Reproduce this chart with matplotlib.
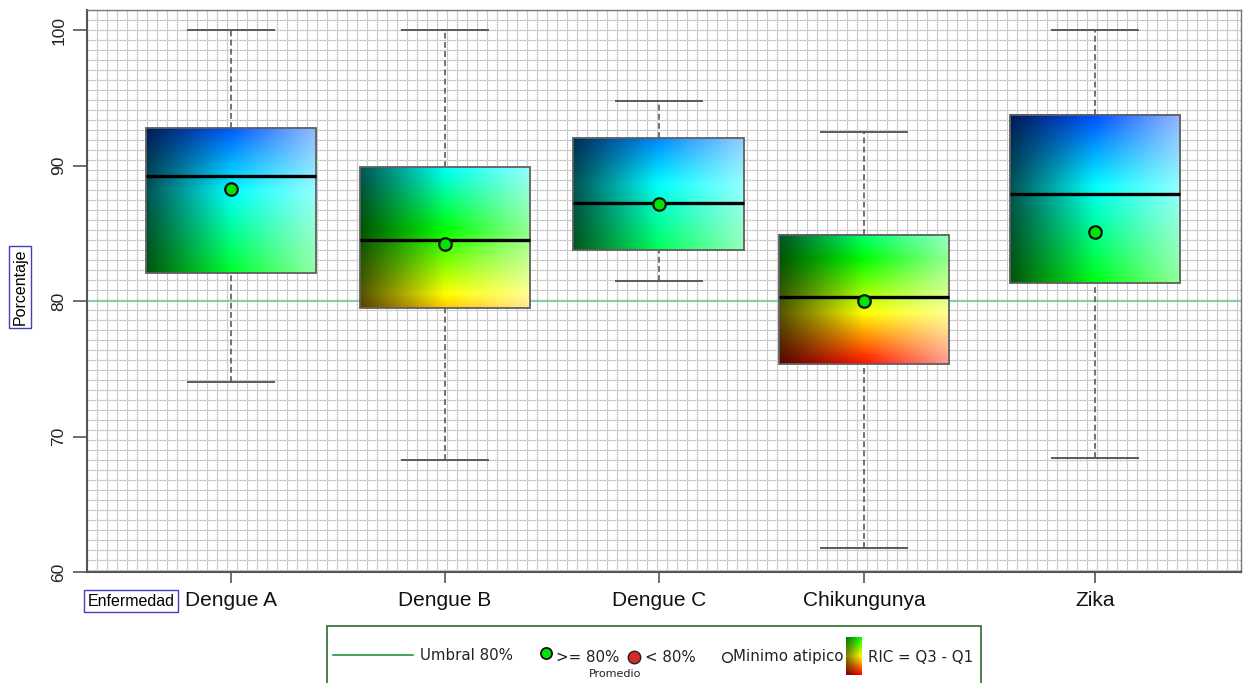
import numpy as np
import matplotlib
matplotlib.use("Agg")
import matplotlib.pyplot as plt
from matplotlib.colors import hsv_to_rgb
from matplotlib.patches import Rectangle
from matplotlib.lines import Line2D

# --- data -------------------------------------------------------------
categories = ["Dengue A", "Dengue B", "Dengue C", "Chikungunya", "Zika"]
whisker_low = [74.0, 68.3, 81.5, 61.8, 68.4]
q1 = [82.1, 79.5, 83.8, 75.35, 81.3]
median = [89.2, 84.5, 87.2, 80.3, 87.9]
q3 = [92.8, 89.9, 92.0, 84.9, 93.7]
whisker_high = [100.0, 100.0, 94.8, 92.5, 100.0]
mean = [88.3, 84.2, 87.15, 80.0, 85.1]
threshold = 80
y_ticks = [60, 70, 80, 90, 100]

# --- layout -----------------------------------------------------------
W, H = 1245, 683
DPI = 100
positions = [1.0, 1.99, 2.98, 3.93, 5.0]
box_w = 0.79
cap_w = 0.40
xlim = (0.333, 5.676)
ylim = (60, 101.48)

plt.rcParams["font.family"] = ["Liberation Sans", "DejaVu Sans"]

fig = plt.figure(figsize=(W / DPI, H / DPI), dpi=DPI)
ax_l, ax_r, ax_t, ax_b = 87, 1241, 10, 572
ax = fig.add_axes([ax_l / W, 1 - ax_b / H, (ax_r - ax_l) / W, (ax_b - ax_t) / H])
ax.set_xlim(*xlim)
ax.set_ylim(*ylim)


def fx(px):
    return px / W


def fy(py):
    return 1 - py / H


# background grid every 10 px
dy = 10 * (ylim[1] - ylim[0]) / (ax_b - ax_t)
dx = 10 * (xlim[1] - xlim[0]) / (ax_r - ax_l)
for yv in np.arange(ylim[1], ylim[0] - 1e-9, -dy):
    ax.axhline(yv, color="#dadada", lw=0.9, zorder=0)
    ax.axhline(yv, color="#a4a4a4", lw=0.6, ls=(0, (1, 2)), zorder=0)
for xv in np.arange(xlim[0], xlim[1] + 1e-9, dx):
    ax.axvline(xv, color="#dadada", lw=0.9, zorder=0)
    ax.axvline(xv, color="#a4a4a4", lw=0.6, ls=(0, (1, 2)), zorder=0)

# threshold line
ax.axhline(threshold, color="#86cfa2", lw=1.5, zorder=1)

# hue scale used to colour the interquartile boxes
hue_v = [75, 80, 81, 85, 90, 93]
hue_d = [0, 52, 122, 148, 180, 222]


def box_image(lo, hi, ny=200, nx=200):
    h_lo = np.interp(lo, hue_v, hue_d)
    h_hi = np.interp(hi, hue_v, hue_d)
    hues = np.linspace(h_hi, h_lo, ny) / 360.0  # top row first
    hsv = np.stack([hues, np.ones(ny), np.ones(ny)], axis=-1)
    base = hsv_to_rgb(hsv)[:, None, :]  # ny x 1 x 3
    t = np.linspace(0, 1, nx)[None, :, None]
    dark = base * (0.33 + 0.67 * np.clip(t / 0.5, 0, 1))
    light = base + (1 - base) * 0.58 * np.clip((t - 0.5) / 0.5, 0, 1)
    img = np.where(t < 0.5, dark, light)
    return np.clip(img, 0, 1)


whisk_col = "#5a5a5a"
for x, lo, a, m, b, hi, mu in zip(positions, whisker_low, q1, median, q3,
                                  whisker_high, mean):
    # whiskers
    ax.plot([x, x], [b, hi], color=whisk_col, lw=1.2, ls=(0, (3.5, 2)), zorder=2)
    ax.plot([x, x], [lo, a], color=whisk_col, lw=1.2, ls=(0, (3.5, 2)), zorder=2)
    ax.plot([x - cap_w / 2, x + cap_w / 2], [hi, hi], color=whisk_col, lw=1.4, zorder=2)
    ax.plot([x - cap_w / 2, x + cap_w / 2], [lo, lo], color=whisk_col, lw=1.4, zorder=2)
    # gradient box
    ax.imshow(box_image(a, b), extent=[x - box_w / 2, x + box_w / 2, a, b],
              aspect="auto", interpolation="bilinear", zorder=3)
    ax.add_patch(Rectangle((x - box_w / 2, a), box_w, b - a, fill=False,
                           edgecolor="#606060", lw=1.3, zorder=4))
    # median
    ax.plot([x - box_w / 2, x + box_w / 2], [m, m], color="#000000", lw=2.4,
            zorder=5, solid_capstyle="butt")
    # mean
    col = "#00e600" if mu >= threshold else "#d42a2a"
    ax.plot([x], [mu], marker="o", ms=9, mfc=col, mec="#111111", mew=1.6,
            zorder=6)

# axes styling
ax.set_xticks(positions)
ax.set_xticklabels(categories, fontsize=15)
ax.set_yticks(y_ticks)
ax.set_yticklabels([str(v) for v in y_ticks], rotation=90, va="center",
                   fontsize=12.5)
ax.tick_params(axis="y", length=10, width=1.2, color="#555555", pad=5,
               labelcolor="#222222")
ax.tick_params(axis="x", length=8, width=1.2, color="#555555", pad=6,
               labelcolor="#111111")
for s in ("left", "bottom"):
    ax.spines[s].set_color("#555555")
    ax.spines[s].set_linewidth(1.5)
for s in ("top", "right"):
    ax.spines[s].set_color("#777777")
    ax.spines[s].set_linewidth(1.0)
    ax.spines[s].set_linestyle((0, (1, 1)))

# axis titles in framed boxes
fig.text(fx(20), fy(287), "Porcentaje", rotation=90, ha="center", va="center",
         fontsize=11.5,
         bbox=dict(boxstyle="square,pad=0.2", fc="white", ec="#4040c0", lw=1))
fig.text(fx(131), fy(601), "Enfermedad", ha="center", va="center",
         fontsize=11.5,
         bbox=dict(boxstyle="square,pad=0.2", fc="white", ec="#4040c0", lw=1))

# legend panel
leg_font = ["DejaVu Sans"]
frame = Rectangle((fx(327), fy(700)), fx(981) - fx(327), fy(626) - fy(700),
                  transform=fig.transFigure, fill=True, fc="white",
                  ec="#2f6b2f", lw=1.2, clip_on=False, zorder=0)
fig.patches.append(frame)
fig.lines.append(Line2D([fx(333), fx(413)], [fy(655), fy(655)],
                        transform=fig.transFigure, color="#1f9a3a", lw=1.2))
fig.text(fx(420), fy(655), "Umbral 80%", va="center", ha="left", fontsize=10.8,
         family=leg_font, color="#222222")
fig.lines.append(Line2D([fx(546)], [fy(653)], transform=fig.transFigure,
                        marker="o", ms=8, mfc="#00e600", mec="#111111", mew=1.3))
fig.text(fx(556), fy(657), ">= 80%", va="center", ha="left", fontsize=10.8,
         family=leg_font, color="#222222")
fig.lines.append(Line2D([fx(634)], [fy(657)], transform=fig.transFigure,
                        marker="o", ms=9, mfc="#d42a2a", mec="#222222", mew=1.0))
fig.text(fx(645), fy(657), "< 80%", va="center", ha="left", fontsize=10.8,
         family=leg_font, color="#222222")
fig.text(fx(615), fy(674), "Promedio", va="center", ha="center", fontsize=8,
         family=leg_font, color="#222222")
fig.lines.append(Line2D([fx(727)], [fy(657)], transform=fig.transFigure,
                        marker="o", ms=7, mfc="white", mec="#222222", mew=1.0))
fig.text(fx(733), fy(657), "Minimo atipico", va="center", ha="left",
         fontsize=10.8, family=leg_font, color="#222222")
# small colour key for the interquartile range
key = np.linspace(1, 0, 60)
key_rgb = np.zeros((60, 12, 3))
for i, k in enumerate(key):
    c = hsv_to_rgb([k * 120 / 360, 1, 1])
    for j in range(12):
        key_rgb[i, j] = c * (0.5 + 0.5 * j / 11)
kax = fig.add_axes([fx(846), fy(675), fx(862) - fx(846), fy(637) - fy(675)],
                   zorder=5)
kax.imshow(key_rgb, aspect="auto", interpolation="bilinear")
kax.axis("off")
fig.text(fx(868), fy(657), "RIC = Q3 - Q1", va="center", ha="left",
         fontsize=10.8, family=leg_font, color="#222222")

fig.savefig("out.png", dpi=DPI)
